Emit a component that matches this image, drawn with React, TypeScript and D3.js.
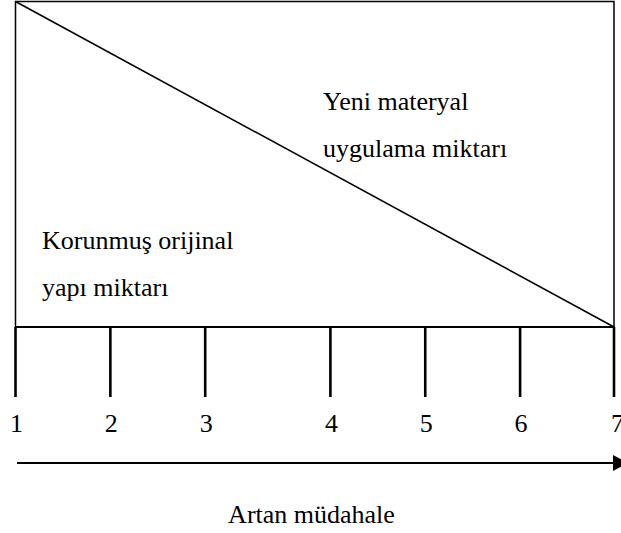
import React from "react";
import * as d3 from "d3";

// Intervention levels (uneven spacing as drawn in the figure)
const tickLabels = ["1", "2", "3", "4", "5", "6", "7"];
const tickValues = [0, 1, 2, 3.32, 4.32, 5.32, 6.31];
// Share of preserved original structure at start/end of the range
const preservedShare = [1, 0];
const topLabel = ["Yeni materyal", "uygulama miktarı"];
const bottomLabel = ["Korunmuş orijinal", "yapı miktarı"];
const axisTitle = "Artan müdahale";

const W = 621;
const H = 533;
const FONT = "Liberation Serif, Times New Roman, serif";

export default function App() {
  const x = d3.scaleLinear().domain([0, 6.31]).range([15.5, 614]);
  const y = d3.scaleLinear().domain([0, 1]).range([327, 1.5]);
  const diag = d3
    .line<number>()
    .x((_, i) => x(i === 0 ? 0 : 6.31))
    .y((d) => y(d));

  const tickTop = y(0);
  const tickBottom = 397;
  const arrowY = 463;
  const txt = { fontFamily: FONT, fontSize: 26, fill: "#000" } as const;

  return (
    <svg
      width={W}
      height={H}
      style={{ position: "absolute", left: 0, top: 0, background: "#fff" }}
    >
      <rect x={0} y={0} width={W} height={H} fill="#fff" />
      {/* frame */}
      <rect
        x={x(0)}
        y={y(1)}
        width={x(6.31) - x(0)}
        height={y(0) - y(1)}
        fill="none"
        stroke="#000"
        strokeWidth={1.5}
      />
      <line x1={x(0)} x2={x(6.31)} y1={y(0)} y2={y(0)} stroke="#000" strokeWidth={2} />
      {/* diagonal */}
      <path d={diag(preservedShare) || ""} fill="none" stroke="#000" strokeWidth={1.6} />

      {/* text in areas */}
      {topLabel.map((t, i) => (
        <text key={t} x={323} y={110 + i * 47} style={txt}>
          {t}
        </text>
      ))}
      {bottomLabel.map((t, i) => (
        <text key={t} x={42} y={249 + i * 47} style={txt}>
          {t}
        </text>
      ))}

      {/* ticks */}
      {tickValues.map((v, i) => (
        <g key={i}>
          <line
            x1={x(v)}
            x2={x(v)}
            y1={tickTop}
            y2={tickBottom}
            stroke="#000"
            strokeWidth={2.6}
          />
          <text
            x={x(v) + 1 + (i === tickValues.length - 1 ? 2.5 : 0)}
            y={432}
            textAnchor="middle"
            style={txt}
          >
            {tickLabels[i]}
          </text>
        </g>
      ))}

      {/* arrow */}
      <line x1={17} x2={614} y1={arrowY} y2={arrowY} stroke="#000" strokeWidth={2} />
      <path d={`M613,${arrowY - 8} L628,${arrowY} L613,${arrowY + 8} Z`} fill="#000" />

      <text x={311.5} y={523} textAnchor="middle" style={txt}>
        {axisTitle}
      </text>
    </svg>
  );
}
